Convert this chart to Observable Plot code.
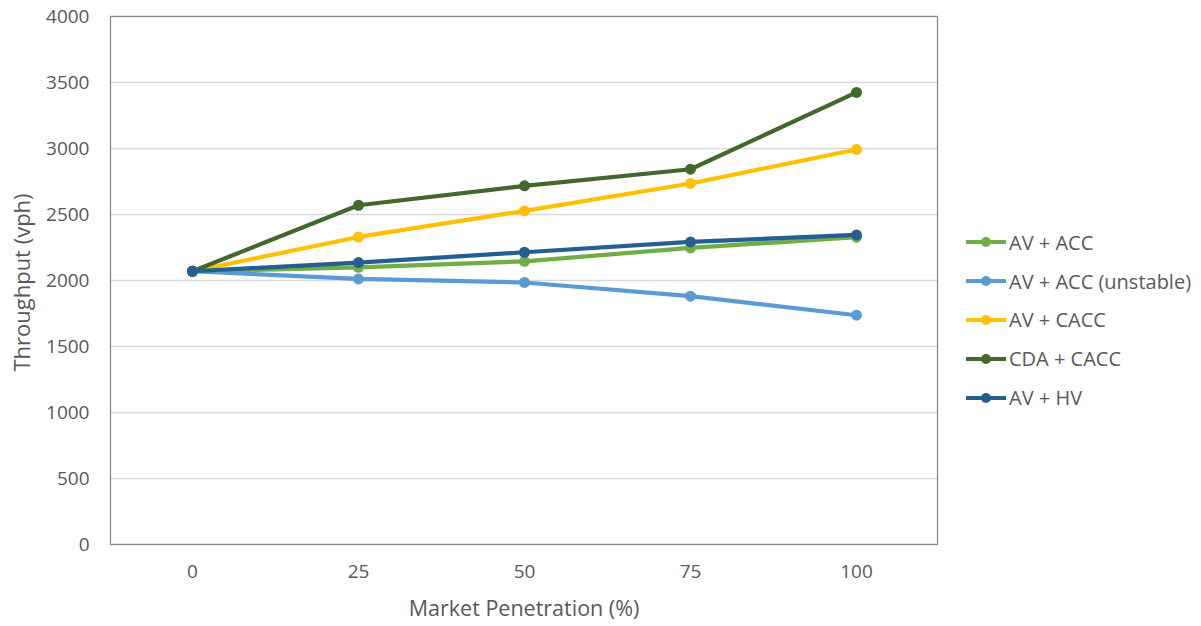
<!DOCTYPE html>
<html>
<head>
<meta charset="utf-8">
<script src="https://cdn.jsdelivr.net/npm/d3@7"></script>
<script src="https://cdn.jsdelivr.net/npm/@observablehq/plot@0.6"></script>
<style>
  html, body { margin: 0; padding: 0; background: #fff; }
  #wrap { position: relative; width: 1201px; height: 626px; font-family: "Open Sans", sans-serif; }
  #legend { position: absolute; left: 966px; top: 223px; color: #595959; font-size: 20px; }
  .item { display: flex; align-items: center; height: 38.8px; white-space: nowrap; }
  .item svg { margin-right: 3px; }
</style>
</head>
<body>
<div id="wrap"><div id="legend"></div></div>
<script>
// Market penetration levels (%)
const penetration = [0, 25, 50, 75, 100];

// Throughput (vph) per scenario
const series = ["AV + ACC", "AV + ACC (unstable)", "AV + CACC", "CDA + CACC", "AV + HV"];
const avAcc         = [2070, 2100, 2145, 2247, 2328];
const avAccUnstable = [2070, 2012, 1985, 1881, 1737];
const avCacc        = [2070, 2330, 2527, 2735, 2992];
const cdaCacc       = [2070, 2570, 2717, 2843, 3425];
const avHv          = [2070, 2136, 2214, 2292, 2345];
const colors = ["#70ad47", "#5b9bd5", "#ffc000", "#43682b", "#255e91"];

const yTicks = [0, 500, 1000, 1500, 2000, 2500, 3000, 3500, 4000];

const valueLists = [avAcc, avAccUnstable, avCacc, cdaCacc, avHv];
const rows = series.flatMap((s, i) =>
  penetration.map((p, j) => ({series: s, p, v: valueLists[i][j]}))
);

const chart = Plot.plot({
  width: 1201,
  height: 626,
  marginLeft: 110,
  marginRight: 264,
  marginTop: 16,
  marginBottom: 82,
  style: {fontFamily: "'Open Sans', sans-serif", fontSize: "19px", color: "#595959", background: "transparent"},
  x: {type: "point", domain: penetration, padding: 0.49, label: null},
  y: {domain: [0, 4000], ticks: yTicks, label: null},
  color: {domain: series, range: colors},
  marks: [
    Plot.gridY(yTicks, {stroke: "#d9d9d9", strokeOpacity: 1, strokeWidth: 1.3}),
    Plot.frame({stroke: "#8c8c8c", strokeWidth: 1.3}),
    Plot.axisY({ticks: yTicks, tickFormat: d3.format("d"), tickSize: 0, tickPadding: 21, fill: "#595959", label: null}),
    Plot.axisX({tickSize: 0, tickPadding: 20, fill: "#595959", label: null}),
    Plot.text(["Market Penetration (%)"], {frameAnchor: "bottom", dy: 71, fill: "#595959", fontSize: 21.5}),
    Plot.text(["Throughput (vph)"], {frameAnchor: "left", dx: -88, dy: 2, rotate: -90, textAnchor: "middle", fill: "#595959", fontSize: 22}),
    Plot.line(rows, {x: "p", y: "v", z: "series", stroke: "series", strokeWidth: 4.2}),
    Plot.dot(rows, {x: "p", y: "v", fill: "series", r: 5.5})
  ]
});
document.getElementById("wrap").prepend(chart);
chart.style.position = "absolute";
chart.style.left = "0";
chart.style.top = "0";

// Legend
const legend = d3.select("#legend");
series.forEach((s, i) => {
  const item = legend.append("div").attr("class", "item");
  const sw = item.append("svg").attr("width", 40).attr("height", 12);
  sw.append("line").attr("x1", 1).attr("x2", 39).attr("y1", 6).attr("y2", 6)
    .attr("stroke", colors[i]).attr("stroke-width", 4).attr("stroke-linecap", "round");
  sw.append("circle").attr("cx", 20).attr("cy", 6).attr("r", 5).attr("fill", colors[i]);
  item.append("span").text(s);
});
</script>
</body>
</html>
